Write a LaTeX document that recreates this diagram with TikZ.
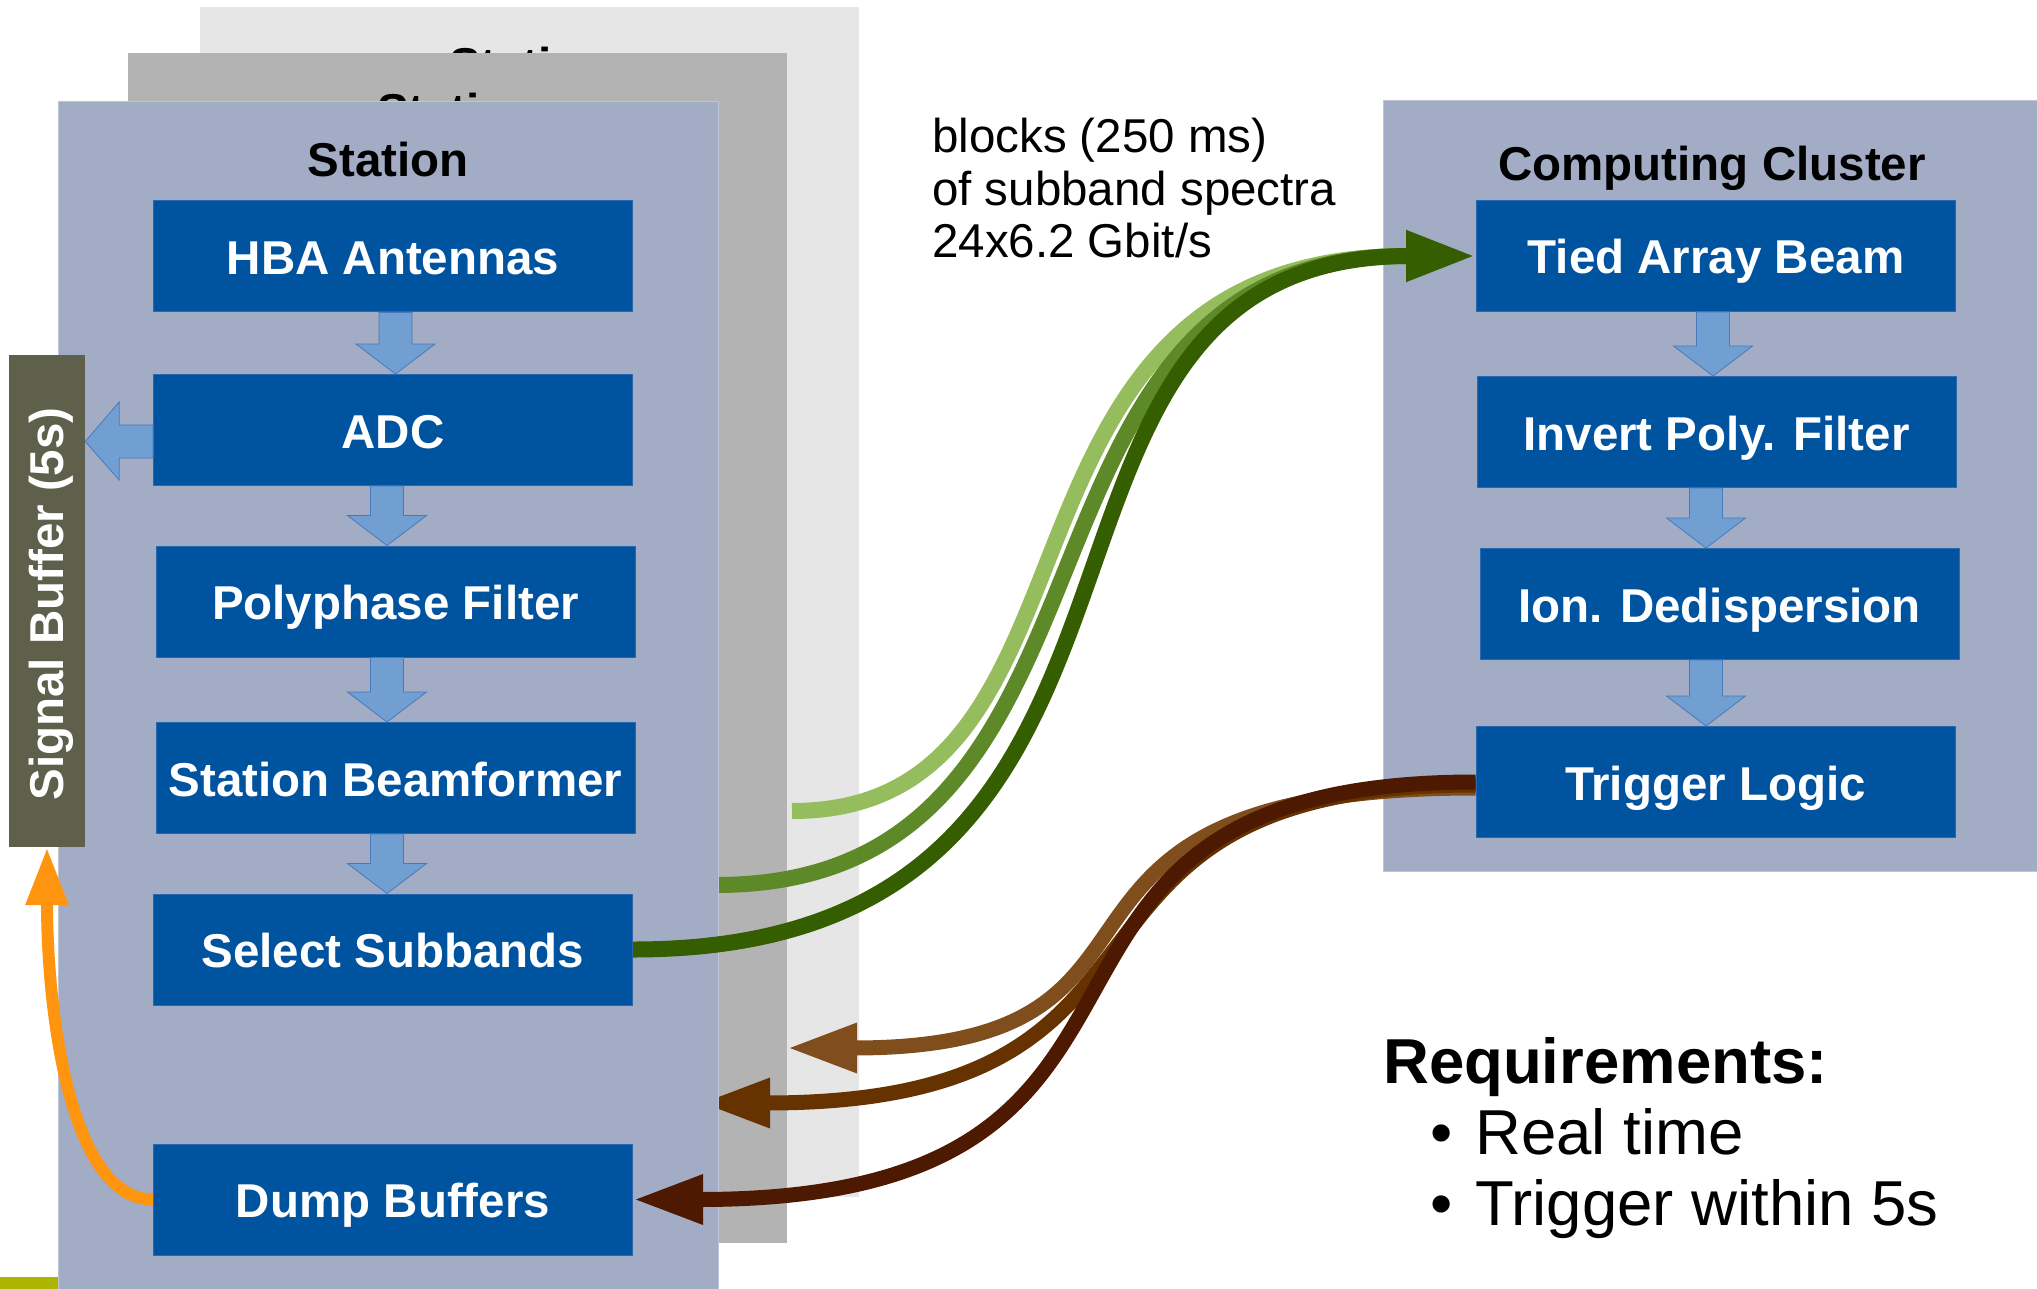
\documentclass[tikz,border=0pt]{standalone}
\usepackage{fontspec}
\setmainfont{Liberation Sans}
\usetikzlibrary{arrows.meta,calc}

\definecolor{stblue}{RGB}{162,172,197}
\definecolor{stedge}{RGB}{190,197,214}
\definecolor{midgray}{RGB}{179,179,179}
\definecolor{ltgray}{RGB}{230,230,230}
\definecolor{boxblue}{RGB}{0,83,159}
\definecolor{boxedge}{RGB}{40,104,176}
\definecolor{arrfill}{RGB}{114,159,210}
\definecolor{arredge}{RGB}{70,122,186}
\definecolor{bufcol}{RGB}{94,96,75}
\definecolor{orangec}{RGB}{255,149,14}
\definecolor{greenA}{RGB}{150,189,93}
\definecolor{greenB}{RGB}{94,137,41}
\definecolor{greenC}{RGB}{53,94,0}
\definecolor{brownA}{RGB}{128,77,28}
\definecolor{brownB}{RGB}{102,51,0}
\definecolor{brownC}{RGB}{77,25,0}
\definecolor{stripc}{RGB}{172,181,0}

\newcommand\mylblfont{\fontsize{47.5pt}{57pt}\selectfont\bfseries}
\newcommand\mytxtfont{\fontsize{47.5pt}{57pt}\selectfont}
\newcommand\myreqbfont{\fontsize{63.5pt}{72pt}\selectfont\bfseries}
\newcommand\myreqfont{\fontsize{63.5pt}{72pt}\selectfont}

% downward block arrow between two boxes, centred at x = #3
\newcommand\downblk[3]{%
  \path[blkarrow] let \p1=(#1.south), \p2=(#2.north) in
    ({#3pt-16.5pt},\y1) -- ({#3pt-16.5pt},\y2+30pt) -- ({#3pt-39.5pt},\y2+30pt)
    -- ({#3pt},\y2) -- ({#3pt+39.5pt},\y2+30pt) -- ({#3pt+16.5pt},\y2+30pt)
    -- ({#3pt+16.5pt},\y1) -- cycle;}

\begin{document}
\begin{tikzpicture}[x=1pt,y=-1pt,
  stbox/.style={rectangle, inner sep=0pt, outer sep=0pt, anchor=north west},
  proc/.style={rectangle, fill=boxblue, draw=boxedge, line width=1pt,
    minimum width=479pt, minimum height=111pt, inner sep=0pt,
    text height=36pt, text depth=0pt,
    text=white, font=\mylblfont},
  sttitle/.style={anchor=base, inner sep=0pt, font=\mylblfont},
  blkarrow/.style={fill=arrfill, draw=arredge, line width=0.8pt, line join=miter},
  gflow/.style={line width=16pt},
  bflow/.style={line width=15pt},
  ghead/.style={-{Triangle[length=70pt,width=47pt]}},
  bhead/.style={-{Triangle[length=70pt,width=46pt]}},
  ohead/.style={-{Triangle[length=58pt,width=40pt]}},
  plain/.style={anchor=base west, inner sep=0pt},
]
\useasboundingbox (0,0) rectangle (2037,1289);
\fill[white] (0,0) rectangle (2037,1289);

% rear station
\node[stbox, fill=ltgray, minimum width=659pt, minimum height=1190pt] (st3) at (200,7) {};
\node[sttitle] at ($(st3.north)+(0,75)$) {Station};

% computing cluster
\node[stbox, fill=stblue, draw=stedge, line width=1pt, minimum width=662pt, minimum height=770pt] (cl) at (1383,101) {};
\node[sttitle] at ($(cl.north west)+(329,80)$) {Computing Cluster};
\node[proc] (tab) at (1716,256) {Tied Array Beam};
\node[proc] (ipf) at (1716.5,432) {Invert Poly. Filter};
\node[proc] (ion) at (1719.5,604) {Ion. Dedispersion};
\node[proc] (tl)  at (1715.5,782) {Trigger Logic};
\downblk{tab}{ipf}{1713}
\downblk{ipf}{ion}{1706}
\downblk{ion}{tl}{1706}

% links of the rear station
\coordinate (gA) at (792,811);
\coordinate (bA) at (787,1048);
\draw[gflow, greenA, shorten >=69pt] (gA) .. controls +(337,0) and +(-515,0) .. (tab.west);
\draw[bflow, brownA, bhead] ($(tl.west)+(0,6)$) .. controls +(-500,0) and +(440,0) .. (bA);

% middle station
\node[stbox, fill=midgray, minimum width=659pt, minimum height=1190pt] (st2) at (128,53) {};
\node[sttitle] at ($(st2.north)+(0,75)$) {Station};

% links of the middle station
\coordinate (gB) at (716,885);
\coordinate (bB) at (700,1103);
\draw[gflow, greenB, shorten >=69pt] (gB) .. controls +(441,0) and +(-500,0) .. (tab.west);
\draw[bflow, brownB, bhead] ($(tl.west)+(0,3)$) .. controls +(-470,0) and +(530,0) .. (bB);

% front station
\node[stbox, fill=stblue, draw=stedge, line width=1pt, minimum width=660pt, minimum height=1200pt] (st1) at (58,102) {};
\node[sttitle] at ($(st1.north)+(0,75)$) {Station};
\node[proc] (hba)  at (393,256.5)  {HBA Antennas};
\node[proc] (adc)  at (393,430)    {ADC};
\node[proc] (poly) at (395.5,601.5) {Polyphase Filter};
\node[proc] (sbf)  at (395.5,778)  {Station Beamformer};
\node[proc] (sel)  at (393,949.5)  {Select Subbands};
\node[proc] (dump) at (393,1199.5) {Dump Buffers};
\downblk{hba}{adc}{395.5}
\downblk{adc}{poly}{387}
\downblk{poly}{sbf}{387}
\downblk{sbf}{sel}{387}

% signal buffer
\node[rectangle, fill=bufcol, minimum width=76pt, minimum height=492pt, inner sep=0pt] (sbuf) at (47,601) {};
\node[rotate=90, inner sep=0pt, text=white, font=\mylblfont] at (51,604) {Signal Buffer (5s)};
\path[blkarrow] let \p1=(adc.west), \p2=(sbuf.east) in
  (\x1,\y1+5pt) -- (\x2+34pt,\y1+5pt) -- (\x2+34pt,\y1+28pt) -- (\x2,\y1-11.5pt)
  -- (\x2+34pt,\y1-50pt) -- (\x2+34pt,\y1-28pt) -- (\x1,\y1-28pt) -- cycle;
\draw[line width=12pt, orangec, ohead] (dump.west) .. controls +(-83,0) and +(0,165) .. (sbuf.south);

% links of the front station
\draw[gflow, greenC, ghead] (sel.east) .. controls +(606,0) and +(-515,0) .. (tab.west);
\draw[bflow, brownC, bhead] (tl.west) .. controls +(-534,0) and +(618,0) .. (dump.east);

% labels
\node[plain, font=\mytxtfont] at (932,153) {blocks (250 ms)};
\node[plain, font=\mytxtfont] at (932,205.5) {of subband spectra};
\node[plain, font=\mytxtfont] at (932,258) {24x6.2 Gbit/s};

\node[plain, font=\myreqbfont] at (1383,1083) {Requirements:};
\node[anchor=base, inner sep=0pt, font=\myreqfont] at (1442,1154) {•};
\node[plain, font=\myreqfont] at (1475,1154) {Real time};
\node[anchor=base, inner sep=0pt, font=\myreqfont] at (1442,1225) {•};
\node[plain, font=\myreqfont] at (1475,1225) {Trigger within 5s};

% corner strip
\fill[stripc] (0,1277) rectangle (58,1289);
\end{tikzpicture}
\end{document}
